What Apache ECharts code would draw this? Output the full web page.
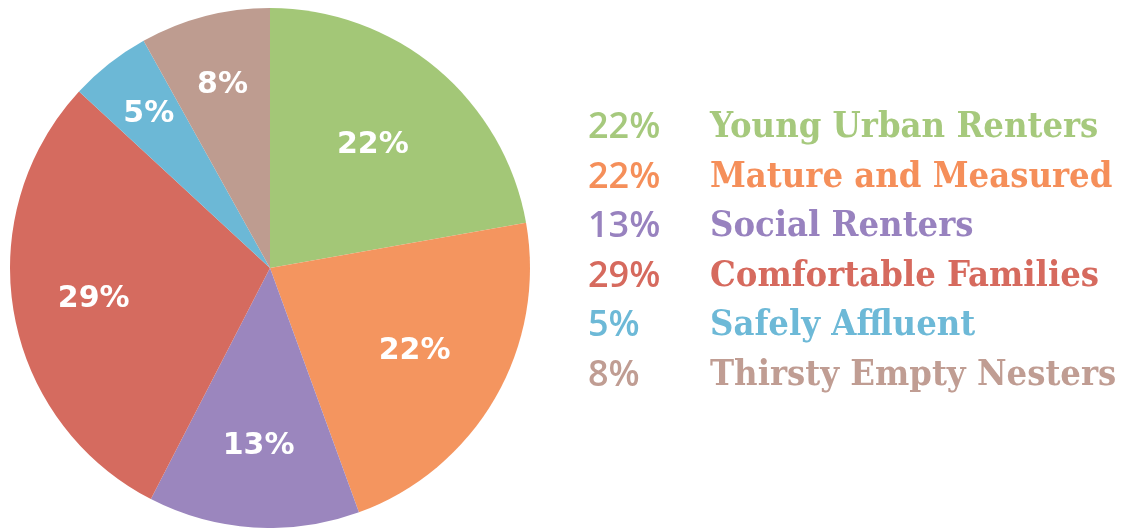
<!DOCTYPE html>
<html>
<head>
<meta charset="utf-8">
<script src="https://cdn.jsdelivr.net/npm/echarts@6/dist/echarts.min.js"></script>
<style>
  html, body { margin: 0; padding: 0; background: #ffffff; }
  #chart { width: 1124px; height: 528px; }
</style>
</head>
<body>
<div id="chart"></div>
<script>
// Household segments and their share (%)
const segments = ['Young Urban Renters', 'Mature and Measured', 'Social Renters',
                  'Comfortable Families', 'Safely Affluent', 'Thirsty Empty Nesters'];
const shares = [22, 22, 13, 29, 5, 8];
const sliceColors = ['#A3C777', '#F4955F', '#9B86BE', '#D56B5F', '#6CB8D6', '#BE9C90'];
const textColors = ['#A6C97D', '#F58F5A', '#9882BF', '#D66A5E', '#6DB9D7', '#C09D93'];

// layout of the pie
const CENTER = [270, 268];
const R = 260;
// distance of each percentage label from the pie centre
const labelDist = [157, 164, 176, 176, 193, 186];

const pieData = segments.map((name, i) => ({
  name: name,
  value: shares[i],
  itemStyle: { color: sliceColors[i] }
}));

const legendData = segments.map((name, i) => ({
  name: name,
  icon: 'none',
  textStyle: {
    rich: {
      p: { fontFamily: '"Open Sans", sans-serif', fontWeight: 600, fontSize: 36,
           color: textColors[i], width: 122 },
      n: { fontFamily: '"DejaVu Serif Condensed", "DejaVu Serif", serif', fontWeight: 'bold',
           fontSize: 36, color: textColors[i] }
    }
  }
}));

// one transparent ring per slice, only used to place that slice's label
const labelRings = segments.map((name, k) => ({
  type: 'pie',
  center: CENTER,
  radius: [2 * labelDist[k] - R, R],
  startAngle: 90,
  clockwise: true,
  silent: true,
  legendHoverLink: false,
  itemStyle: { color: 'rgba(0,0,0,0)', borderWidth: 0 },
  labelLine: { show: false },
  label: { show: false },
  data: segments.map((n, i) => ({
    name: n + ' #' + k,
    value: shares[i],
    label: {
      show: i === k,
      position: 'inside',
      formatter: '{c}%',
      color: '#ffffff',
      fontFamily: '"DejaVu Sans", sans-serif',
      fontWeight: 'bold',
      fontSize: 30
    }
  }))
}));

const chart = echarts.init(document.getElementById('chart'), null, { renderer: 'canvas' });
chart.setOption({
  backgroundColor: '#ffffff',
  animation: false,
  legend: {
    orient: 'vertical',
    left: 578,
    top: 105,
    itemWidth: 0,
    itemHeight: 0,
    itemGap: 13.5,
    selectedMode: false,
    data: legendData,
    formatter: function (name) {
      const i = segments.indexOf(name);
      return '{p|' + shares[i] + '%}{n|' + name + '}';
    }
  },
  series: [
    {
      type: 'pie',
      center: CENTER,
      radius: [0, R],
      startAngle: 90,
      clockwise: true,
      silent: true,
      label: { show: false },
      labelLine: { show: false },
      itemStyle: { borderWidth: 0 },
      data: pieData
    }
  ].concat(labelRings)
});
</script>
</body>
</html>
